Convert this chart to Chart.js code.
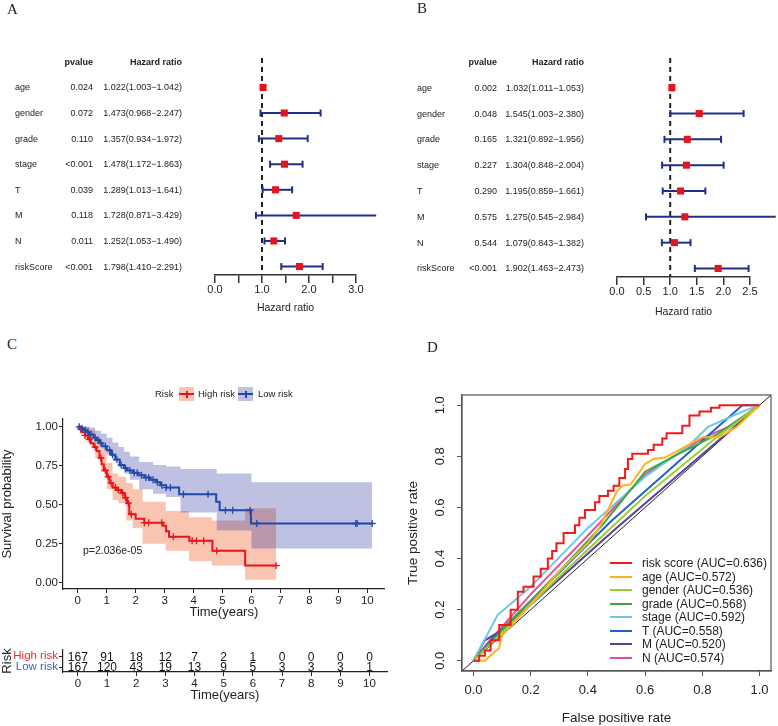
<!DOCTYPE html>
<html>
<head>
<meta charset="utf-8">
<script src="https://cdn.jsdelivr.net/npm/chart.js@4.4.0/dist/chart.umd.min.js"></script>
<style>
  body { margin: 0; background: #fff; }
  #wrap { position: relative; width: 778px; height: 726px; overflow: hidden; font-family: "Liberation Sans", Arial, sans-serif; color: #222; }
  canvas { position: absolute; }
  .t { position: absolute; white-space: nowrap; line-height: 1; }
  .key { position: absolute; }
</style>
</head>
<body>
<div id="wrap">
  <canvas id="forestA" width="389" height="330" style="left:0;top:0"></canvas>
  <canvas id="forestB" width="389" height="330" style="left:389px;top:0"></canvas>
  <canvas id="km" width="390" height="245" style="left:0;top:380px"></canvas>
  <canvas id="riskTable" width="390" height="101" style="left:0;top:625px"></canvas>
  <canvas id="roc" width="388" height="396" style="left:390px;top:330px"></canvas>
</div>
<script>
// forest plots: A = univariate, B = multivariate
const varNames = ["age", "gender", "grade", "stage", "T", "M", "N", "riskScore"];
const uniP = ["0.024", "0.072", "0.110", "<0.001", "0.039", "0.118", "0.011", "<0.001"];
const uniHR = [1.022, 1.473, 1.357, 1.478, 1.289, 1.728, 1.252, 1.798];
const uniLow = [1.003, 0.968, 0.934, 1.172, 1.013, 0.871, 1.053, 1.410];
const uniHigh = [1.042, 2.247, 1.972, 1.863, 1.641, 3.429, 1.490, 2.291];
const multiP = ["0.002", "0.048", "0.165", "0.227", "0.290", "0.575", "0.544", "<0.001"];
const multiHR = [1.032, 1.545, 1.321, 1.304, 1.195, 1.275, 1.079, 1.902];
const multiLow = [1.011, 1.003, 0.892, 0.848, 0.859, 0.545, 0.843, 1.463];
const multiHigh = [1.053, 2.380, 1.956, 2.004, 1.661, 2.984, 1.382, 2.473];

// Kaplan-Meier (C)
const hiTime = [0, 0.08, 0.15, 0.25, 0.35, 0.45, 0.55, 0.65, 0.75, 0.82, 0.9, 1.0, 1.1, 1.2, 1.35, 1.5, 1.62, 1.7, 1.78, 2.0, 2.3, 2.95, 3.05, 3.15, 3.85, 4.65, 5.78];
const hiSurv = [1, 0.985, 0.965, 0.945, 0.92, 0.895, 0.87, 0.845, 0.8, 0.76, 0.72, 0.68, 0.64, 0.61, 0.595, 0.575, 0.545, 0.51, 0.44, 0.41, 0.385, 0.365, 0.33, 0.295, 0.27, 0.205, 0.11];
const hiEnd = 6.85;
const hiCensor = [0.1, 0.25, 0.4, 0.6, 0.8, 0.95, 1.05, 1.15, 1.3, 1.4, 1.55, 1.65, 1.75, 1.85, 2.3, 2.45, 2.9, 3.3, 3.95, 4.1, 4.35, 4.8, 6.85];
const hiBandTime = [0, 0.2, 0.4, 0.6, 0.8, 1.0, 1.2, 1.4, 1.67, 1.9, 2.24, 3.04, 3.84, 4.63, 5.78];
const hiBandUp = [1, 1, 0.98, 0.93, 0.86, 0.77, 0.70, 0.68, 0.64, 0.6, 0.52, 0.46, 0.42, 0.40, 0.477];
const hiBandLo = [1, 0.93, 0.88, 0.8, 0.71, 0.6, 0.53, 0.51, 0.40, 0.35, 0.25, 0.206, 0.14, 0.11, 0.02];

const loTime = [0, 0.1, 0.2, 0.3, 0.4, 0.55, 0.65, 0.75, 0.85, 1.0, 1.15, 1.3, 1.45, 1.6, 1.7, 1.9, 2.1, 2.3, 2.5, 2.7, 2.85, 3.05, 3.5, 4.78, 4.9, 5.98];
const loSurv = [1, 0.99, 0.98, 0.965, 0.95, 0.93, 0.915, 0.895, 0.875, 0.85, 0.82, 0.79, 0.755, 0.735, 0.72, 0.705, 0.69, 0.675, 0.66, 0.645, 0.625, 0.61, 0.567, 0.52, 0.465, 0.38];
const loEnd = 10.17;
const loCensor = [0.05, 0.15, 0.25, 0.35, 0.45, 0.6, 0.7, 0.8, 0.95, 1.1, 1.2, 1.35, 1.5, 1.65, 1.8, 1.95, 2.05, 2.2, 2.35, 2.45, 2.6, 2.75, 2.9, 3.05, 3.2, 3.65, 4.5, 5.1, 5.35, 5.95, 6.18, 9.6, 9.65, 10.17];
const loBandTime = [0, 0.2, 0.4, 0.6, 0.8, 1.0, 1.2, 1.4, 1.6, 1.8, 2.12, 2.6, 3.05, 3.55, 4.8, 6.0];
const loBandUp = [1, 1, 0.995, 0.975, 0.955, 0.93, 0.9, 0.87, 0.84, 0.81, 0.775, 0.755, 0.745, 0.73, 0.70, 0.645];
const loBandLo = [1, 0.975, 0.94, 0.9, 0.86, 0.82, 0.78, 0.74, 0.7, 0.66, 0.6, 0.57, 0.55, 0.45, 0.335, 0.22];

const riskTimes = [0, 1, 2, 3, 4, 5, 6, 7, 8, 9, 10];
const highAtRisk = [167, 91, 18, 12, 7, 2, 1, 0, 0, 0, 0];
const lowAtRisk = [167, 120, 43, 19, 13, 9, 5, 3, 3, 3, 1];

// ROC (D)
const rocNames = ["risk score", "age", "gender", "grade", "stage", "T", "M", "N"];
const rocAuc = ["0.636", "0.572", "0.536", "0.568", "0.592", "0.558", "0.520", "0.574"];
const rocColors = ["#f21a1a", "#ffb31a", "#9acd32", "#3caa3c", "#6cc8e6", "#2460c8", "#5840a0", "#e0509e"];
const rocRiskFpr = [0, 0.02, 0.04, 0.06, 0.09, 0.13, 0.155, 0.175, 0.21, 0.235, 0.26, 0.275, 0.29, 0.315, 0.355, 0.37, 0.39, 0.425, 0.44, 0.47, 0.49, 0.51, 0.53, 0.54, 0.555, 0.61, 0.63, 0.66, 0.675, 0.73, 0.755, 0.79, 0.83, 0.86, 1];
const rocRiskTpr = [0, 0.02, 0.04, 0.08, 0.14, 0.2, 0.27, 0.29, 0.33, 0.36, 0.40, 0.43, 0.46, 0.50, 0.53, 0.56, 0.59, 0.62, 0.645, 0.665, 0.685, 0.715, 0.75, 0.79, 0.81, 0.825, 0.845, 0.87, 0.89, 0.92, 0.96, 0.975, 0.99, 1.0, 1];
const rocAgeFpr = [0, 0.04, 0.07, 0.09, 0.1, 0.2, 0.3, 0.4, 0.44, 0.5, 0.52, 0.55, 0.6, 0.63, 0.67, 0.8, 0.86, 0.92, 1];
const rocAgeTpr = [0, 0, 0.03, 0.05, 0.1, 0.22, 0.35, 0.46, 0.52, 0.66, 0.685, 0.69, 0.77, 0.79, 0.795, 0.875, 0.875, 0.915, 1];
const rocGenderFpr = [0, 0.1, 0.3, 0.5, 0.6, 0.85, 1];
const rocGenderTpr = [0, 0.11, 0.33, 0.54, 0.645, 0.875, 1];
const rocGradeFpr = [0, 0.1, 0.3, 0.45, 0.6, 0.7, 0.85, 1];
const rocGradeTpr = [0, 0.12, 0.35, 0.53, 0.74, 0.8, 0.885, 1];
const rocStageFpr = [0, 0.085, 0.2, 0.4, 0.6, 0.75, 0.82, 0.94, 1];
const rocStageTpr = [0, 0.18, 0.29, 0.52, 0.72, 0.84, 0.915, 0.975, 1];
const rocTFpr = [0, 0.07, 0.48, 0.94, 1];
const rocTTpr = [0, 0.09, 0.545, 1, 1];
const rocMFpr = [0, 0.04, 0.1, 0.5, 1];
const rocMTpr = [0, 0.08, 0.12, 0.52, 1];
const rocNFpr = [0, 0.05, 0.2, 0.4, 0.6, 0.8, 0.9, 1];
const rocNTpr = [0, 0.07, 0.26, 0.49, 0.73, 0.87, 0.92, 1];

Chart.defaults.font.family = '"Liberation Sans", Arial, sans-serif';
Chart.defaults.color = '#222';

const wrap = document.getElementById('wrap');
const HIGH_RED = '#e8141b';
const LOW_BLUE = '#2448a8';

function addText(x, y, s, o = {}) {
  const d = document.createElement('div');
  d.className = 't';
  d.textContent = s;
  d.style.left = x + 'px';
  d.style.top = y + 'px';
  d.style.fontSize = (o.size || 9) + 'px';
  if (o.bold) d.style.fontWeight = 'bold';
  if (o.color) d.style.color = o.color;
  if (o.serif) d.style.fontFamily = '"Liberation Serif", "Times New Roman", serif';
  const tx = o.align === 'right' ? '-100%' : (o.align === 'center' ? '-50%' : '0');
  d.style.transform = 'translate(' + tx + ', -50%)';
  wrap.appendChild(d);
  return d;
}

function addBox(x, y, w, h, bg) {
  const d = document.createElement('div');
  d.className = 'key';
  d.style.left = x + 'px'; d.style.top = y + 'px';
  d.style.width = w + 'px'; d.style.height = h + 'px';
  d.style.background = bg;
  wrap.appendChild(d);
  return d;
}

const baseOpts = {
  responsive: false,
  animation: false,
  events: [],
  plugins: { legend: { display: false }, tooltip: { enabled: false } }
};

// ---------- forest plots ----------
function forestPlot(id, hr, lo, hi, xMax, pad, xHeight, fmt) {
  const yTop = -1.15, yBot = 7.33;
  const ds = [];
  ds.push({
    data: hr.map((v, i) => ({ x: v, y: i })), showLine: false,
    pointStyle: 'rect', pointRadius: 5, pointBackgroundColor: HIGH_RED,
    pointBorderColor: HIGH_RED, pointBorderWidth: 0, clip: false
  });
  hr.forEach((v, i) => ds.push({
    data: [{ x: lo[i], y: i }, { x: hi[i], y: i }],
    borderColor: '#1f2f8a', borderWidth: 2,
    pointStyle: 'line', pointRotation: 90, pointRadius: 3.5,
    pointBorderColor: '#1f2f8a', pointBorderWidth: 2, clip: false
  }));
  ds.push({
    data: [{ x: 1, y: yTop }, { x: 1, y: yBot }],
    borderColor: '#222', borderWidth: 2, borderDash: [5, 4], pointRadius: 0, clip: false
  });
  return new Chart(document.getElementById(id), {
    type: 'line',
    data: { datasets: ds },
    options: Object.assign({}, baseOpts, {
      layout: { padding: pad },
      scales: {
        x: {
          type: 'linear', min: 0, max: xMax,
          afterFit: s => { s.height = xHeight; },
          ticks: { stepSize: 0.5, autoSkip: false, padding: 0, maxRotation: 0, font: { size: 11 }, color: '#222', callback: fmt },
          grid: { drawOnChartArea: false, tickLength: 8, color: '#333', lineWidth: 1.5 },
          border: { display: true, color: '#333', width: 1.5 },
          title: { display: true, text: 'Hazard ratio', font: { size: 10.5 }, color: '#222', padding: 0 }
        },
        y: { type: 'linear', display: false, reverse: true, min: yTop, max: yBot }
      }
    })
  });
}

function forestTable(chart, cols, pvals, hr, lo, hi) {
  const ys = chart.scales.y;
  const hy = ys.getPixelForValue(-1);
  addText(cols.p, hy, 'pvalue', { align: 'right', bold: true });
  addText(cols.hr, hy, 'Hazard ratio', { align: 'right', bold: true });
  varNames.forEach((n, i) => {
    const y = ys.getPixelForValue(i);
    addText(cols.name, y, n);
    addText(cols.p, y, pvals[i], { align: 'right' });
    addText(cols.hr, y, hr[i].toFixed(3) + '(' + lo[i].toFixed(3) + '\u2212' + hi[i].toFixed(3) + ')', { align: 'right' });
  });
}

const chartA = forestPlot('forestA', uniHR, uniLow, uniHigh, 3,
  { left: 215, right: 33, top: 58, bottom: 16 }, 39,
  v => (v % 1 === 0 ? v.toFixed(1) : ''));
forestTable(chartA, { name: 15, p: 93, hr: 182 }, uniP, uniHR, uniLow, uniHigh);

const chartB = forestPlot('forestB', multiHR, multiLow, multiHigh, 2.5,
  { left: 228, right: 28, top: 58, bottom: 12 }, 41,
  v => v.toFixed(1));
forestTable(chartB, { name: 417, p: 497, hr: 584 }, multiP, multiHR, multiLow, multiHigh);

// ---------- Kaplan-Meier ----------
function steps(t, s, end) {
  const pts = t.map((x, i) => ({ x: x, y: s[i] }));
  pts.push({ x: end, y: s[s.length - 1] });
  return pts;
}
function survAt(t, s, x) {
  let v = s[0];
  for (let i = 0; i < t.length; i++) if (t[i] <= x) v = s[i];
  return v;
}
const hiFill = 'rgba(240,110,60,0.4)';
const loFill = 'rgba(40,50,160,0.3)';

new Chart(document.getElementById('km'), {
  type: 'line',
  data: {
    datasets: [
      { data: loCensor.map(x => ({ x: x, y: survAt(loTime, loSurv, x) })), showLine: false,
        pointStyle: 'cross', pointRadius: 3.5, pointBorderColor: LOW_BLUE, pointBorderWidth: 1.3 },
      { data: hiCensor.map(x => ({ x: x, y: survAt(hiTime, hiSurv, x) })), showLine: false,
        pointStyle: 'cross', pointRadius: 3.5, pointBorderColor: HIGH_RED, pointBorderWidth: 1.3 },
      { data: steps(loTime, loSurv, loEnd), stepped: true, borderColor: LOW_BLUE, borderWidth: 2, pointRadius: 0 },
      { data: steps(hiTime, hiSurv, hiEnd), stepped: true, borderColor: HIGH_RED, borderWidth: 2, pointRadius: 0 },
      { data: steps(loBandTime, loBandUp, loEnd), stepped: true, borderWidth: 0, borderColor: 'transparent', pointRadius: 0, fill: false },
      { data: steps(loBandTime, loBandLo, loEnd), stepped: true, borderWidth: 0, borderColor: 'transparent', pointRadius: 0, fill: '-1', backgroundColor: loFill },
      { data: steps(hiBandTime, hiBandUp, hiEnd), stepped: true, borderWidth: 0, borderColor: 'transparent', pointRadius: 0, fill: false },
      { data: steps(hiBandTime, hiBandLo, hiEnd), stepped: true, borderWidth: 0, borderColor: 'transparent', pointRadius: 0, fill: '-1', backgroundColor: hiFill }
    ]
  },
  options: Object.assign({}, baseOpts, {
    layout: { padding: { left: 0, right: 3, top: 39, bottom: 5 } },
    scales: {
      x: {
        type: 'linear', min: -0.51, max: 10.6,
        afterFit: s => { s.height = 31; },
        ticks: { stepSize: 1, includeBounds: false, autoSkip: false, maxRotation: 0, padding: 1, font: { size: 11.5 }, color: '#222' },
        grid: { drawOnChartArea: false, tickLength: 4, color: '#222', lineWidth: 1 },
        border: { display: true, color: '#222', width: 1.2 },
        title: { display: true, text: 'Time(years)', font: { size: 13 }, color: '#222', padding: 0 }
      },
      y: {
        type: 'linear', min: -0.04, max: 1.05,
        afterFit: s => { s.width = 63; },
        ticks: { stepSize: 0.25, includeBounds: false, padding: 1, font: { size: 11.5 }, color: '#222', callback: v => v.toFixed(2) },
        grid: { drawOnChartArea: false, tickLength: 4, color: '#222', lineWidth: 1 },
        border: { display: true, color: '#222', width: 1.2 },
        title: { display: true, text: 'Survival probability', font: { size: 13 }, color: '#222', padding: 0 }
      }
    }
  })
});

addText(83, 550, 'p=2.036e-05', { size: 10.5 });

// ggplot style legend above the curves
addText(155, 394, 'Risk', { size: 9.5 });
addBox(179, 387, 15, 14, hiFill);
addBox(179, 393, 15, 2, HIGH_RED);
addBox(185.5, 390.5, 2, 7, HIGH_RED);
addText(198, 394, 'High risk', { size: 9.5 });
addBox(238, 387, 15, 14, loFill);
addBox(238, 393, 15, 2, LOW_BLUE);
addBox(244.5, 390.5, 2, 7, LOW_BLUE);
addText(258, 394, 'Low risk', { size: 9.5 });

// ---------- number at risk ----------
const atRiskLabels = {
  id: 'atRiskLabels',
  afterDatasetsDraw(chart) {
    const ctx = chart.ctx;
    ctx.save();
    ctx.font = '12px "Liberation Sans", Arial, sans-serif';
    ctx.fillStyle = '#111';
    ctx.textAlign = 'center';
    ctx.textBaseline = 'middle';
    chart.data.datasets.forEach((d, di) => {
      chart.getDatasetMeta(di).data.forEach((el, i) => ctx.fillText(String(d.data[i].n), el.x, el.y + 1));
    });
    ctx.restore();
  }
};

new Chart(document.getElementById('riskTable'), {
  type: 'line',
  data: {
    datasets: [
      { data: riskTimes.map((t, i) => ({ x: t, y: 1, n: highAtRisk[i] })), showLine: false, pointRadius: 0 },
      { data: riskTimes.map((t, i) => ({ x: t, y: 0, n: lowAtRisk[i] })), showLine: false, pointRadius: 0 }
    ]
  },
  options: Object.assign({}, baseOpts, {
    layout: { padding: { left: 0, right: 3, top: 25, bottom: 23 } },
    scales: {
      x: {
        type: 'linear', min: -0.51, max: 10.6,
        afterFit: s => { s.height = 31; },
        ticks: { stepSize: 1, includeBounds: false, autoSkip: false, maxRotation: 0, padding: 1, font: { size: 11.5 }, color: '#222' },
        grid: { drawOnChartArea: false, tickLength: 4, color: '#222', lineWidth: 1 },
        border: { display: true, color: '#222', width: 1.2 },
        title: { display: true, text: 'Time(years)', font: { size: 13 }, color: '#222', padding: 0 }
      },
      y: {
        type: 'linear', min: -0.45, max: 1.57,
        afterFit: s => { s.width = 63; },
        ticks: { stepSize: 1, includeBounds: false, autoSkip: false, padding: 1, font: { size: 11.5 },
          color: c => (c.tick && c.tick.value === 1 ? '#f02828' : '#3a64c8'),
          callback: v => (v === 1 ? 'High risk' : 'Low risk') },
        grid: { drawOnChartArea: false, tickLength: 4, color: '#222', lineWidth: 1 },
        border: { display: true, color: '#222', width: 1.2 },
        title: { display: true, text: 'Risk', font: { size: 13 }, color: '#222', padding: 0 }
      }
    }
  }),
  plugins: [atRiskLabels]
});

// ---------- ROC ----------
const boxPlugin = {
  id: 'boxPlugin',
  afterDraw(chart) {
    const a = chart.chartArea, ctx = chart.ctx;
    ctx.save();
    ctx.strokeStyle = '#555';
    ctx.lineWidth = 1.2;
    ctx.strokeRect(a.left, a.top, a.right - a.left, a.bottom - a.top);
    ctx.restore();
  }
};
const rocFpr = [rocRiskFpr, rocAgeFpr, rocGenderFpr, rocGradeFpr, rocStageFpr, rocTFpr, rocMFpr, rocNFpr];
const rocTpr = [rocRiskTpr, rocAgeTpr, rocGenderTpr, rocGradeTpr, rocStageTpr, rocTTpr, rocMTpr, rocNTpr];
const rocMin = -0.04, rocMax = 1.04;
const rocSets = rocFpr.map((fx, k) => ({
  data: fx.map((x, i) => ({ x: x, y: rocTpr[k][i] })),
  borderColor: rocColors[k], borderWidth: 2, pointRadius: 0,
  stepped: k === 0
}));
rocSets.push({
  data: [{ x: rocMin, y: rocMin }, { x: rocMax, y: rocMax }],
  borderColor: '#222', borderWidth: 1, pointRadius: 0
});

new Chart(document.getElementById('roc'), {
  type: 'line',
  data: { datasets: rocSets },
  options: Object.assign({}, baseOpts, {
    layout: { padding: { left: 0, right: 7, top: 65, bottom: 0 } },
    scales: {
      x: {
        type: 'linear', min: rocMin, max: rocMax,
        afterFit: s => { s.height = 55; },
        ticks: { stepSize: 0.2, includeBounds: false, autoSkip: false, maxRotation: 0, padding: 7, font: { size: 13 }, color: '#222', callback: v => v.toFixed(1) },
        grid: { drawOnChartArea: false, tickLength: 5, color: '#555', lineWidth: 1 },
        border: { display: true, color: '#555', width: 1.2 },
        title: { display: true, text: 'False positive rate', font: { size: 13.5 }, color: '#222', padding: 0 }
      },
      y: {
        type: 'linear', min: rocMin, max: rocMax,
        afterFit: s => { s.width = 72; },
        ticks: { stepSize: 0.2, includeBounds: false, minRotation: 90, maxRotation: 90, crossAlign: 'center', padding: 8, font: { size: 13 }, color: '#222', callback: v => v.toFixed(1) },
        grid: { drawOnChartArea: false, tickLength: 5, color: '#555', lineWidth: 1 },
        border: { display: true, color: '#555', width: 1.2 },
        title: { display: true, text: 'True positive rate', font: { size: 13.5 }, color: '#222', padding: { top: 15, bottom: 0 } }
      }
    }
  }),
  plugins: [boxPlugin]
});

rocNames.forEach((n, i) => {
  const y = 563 + i * 13.57;
  addBox(610, y - 1, 22, 2, rocColors[i]);
  addText(642, y, n + ' (AUC=' + rocAuc[i] + ')', { size: 12 });
});

// panel letters
addText(7, 9, 'A', { serif: true, size: 15 });
addText(417, 8, 'B', { serif: true, size: 15 });
addText(7, 344, 'C', { serif: true, size: 15 });
addText(427, 347, 'D', { serif: true, size: 15 });
</script>
</body>
</html>
